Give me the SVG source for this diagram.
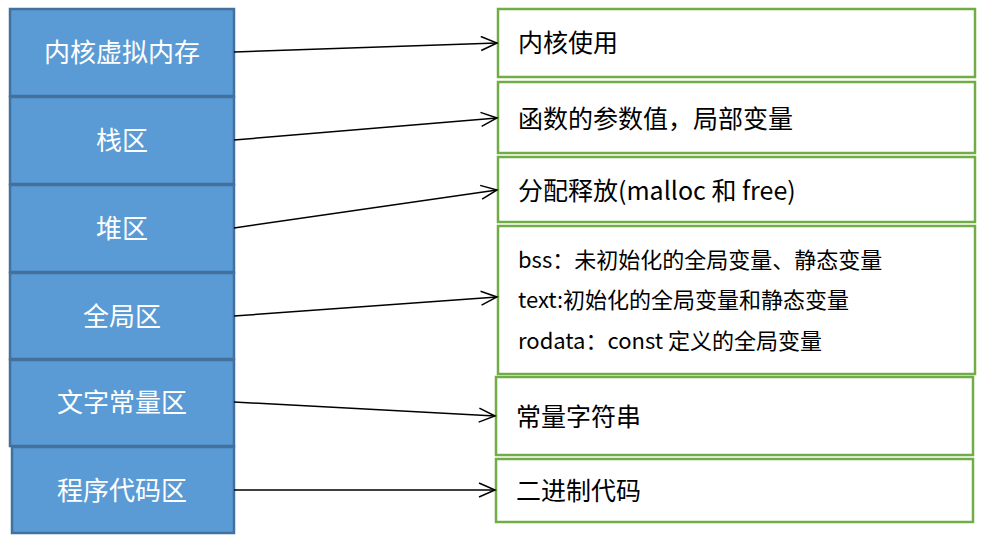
<svg xmlns="http://www.w3.org/2000/svg" width="981" height="535" viewBox="0 0 981 535">
<style>
.l{fill:#5B9BD5;stroke:#41719C;stroke-width:2.5}
.r{fill:#fff;stroke:#70AD47;stroke-width:2.5}
.lt{fill:#fff;font-family:"Noto Sans CJK SC",sans-serif;font-size:26px;text-anchor:middle}
.rt{fill:#000;font-family:"Noto Sans CJK SC",sans-serif;font-size:25px}
.st{fill:#000;font-family:"Noto Sans CJK SC",sans-serif;font-size:22px}
.c{stroke:#000;stroke-width:1.5;fill:none;marker-end:url(#a)}
</style>
<defs><marker id="a" markerWidth="20" markerHeight="16" refX="18" refY="8" orient="auto" markerUnits="userSpaceOnUse"><path d="M2,1 L18,8 L2,15" fill="none" stroke="#000" stroke-width="1.5"/></marker></defs>
<g id="n1"><rect class="l" x="10" y="9" width="224" height="87"/><text class="lt" x="122" y="62">内核虚拟内存</text></g>
<g id="n2"><rect class="l" x="10" y="97" width="224" height="87"/><text class="lt" x="122" y="150">栈区</text></g>
<g id="n3"><rect class="l" x="10" y="185" width="224" height="87"/><text class="lt" x="122" y="238">堆区</text></g>
<g id="n4"><rect class="l" x="10" y="273" width="224" height="86"/><text class="lt" x="122" y="326">全局区</text></g>
<g id="n5"><rect class="l" x="10" y="360" width="224" height="86"/><text class="lt" x="122" y="412">文字常量区</text></g>
<g id="n6"><rect class="l" x="12" y="447" width="222" height="86"/><text class="lt" x="122" y="500">程序代码区</text></g>
<g id="r1"><rect class="r" x="498" y="9" width="477" height="68"/><text class="rt" x="518" y="52">内核使用</text></g>
<g id="r2"><rect class="r" x="498" y="82" width="477" height="71"/><text class="rt" x="518" y="128">函数的参数值，局部变量</text></g>
<g id="r3"><rect class="r" x="498" y="157" width="477" height="65"/><text class="rt" x="518" y="200">分配释放(malloc 和 free)</text></g>
<g id="r4"><rect class="r" x="498" y="226" width="477" height="148"/>
<text class="st" x="518" y="268">bss：未初始化的全局变量、静态变量</text>
<text class="st" x="518" y="308">text:初始化的全局变量和静态变量</text>
<text class="st" x="518" y="349">rodata：const 定义的全局变量</text></g>
<g id="r5"><rect class="r" x="496" y="377" width="477" height="78"/><text class="rt" x="516" y="426">常量字符串</text></g>
<g id="r6"><rect class="r" x="496" y="459" width="477" height="63"/><text class="rt" x="516" y="500">二进制代码</text></g>
<g id="connectors">
<line class="c" x1="234" y1="52" x2="497" y2="43"/>
<line class="c" x1="234" y1="140" x2="497" y2="118"/>
<line class="c" x1="234" y1="228" x2="497" y2="190"/>
<line class="c" x1="234" y1="316" x2="497" y2="297"/>
<line class="c" x1="234" y1="402" x2="495" y2="416"/>
<line class="c" x1="234" y1="490" x2="495" y2="490"/>
</g>
</svg>
